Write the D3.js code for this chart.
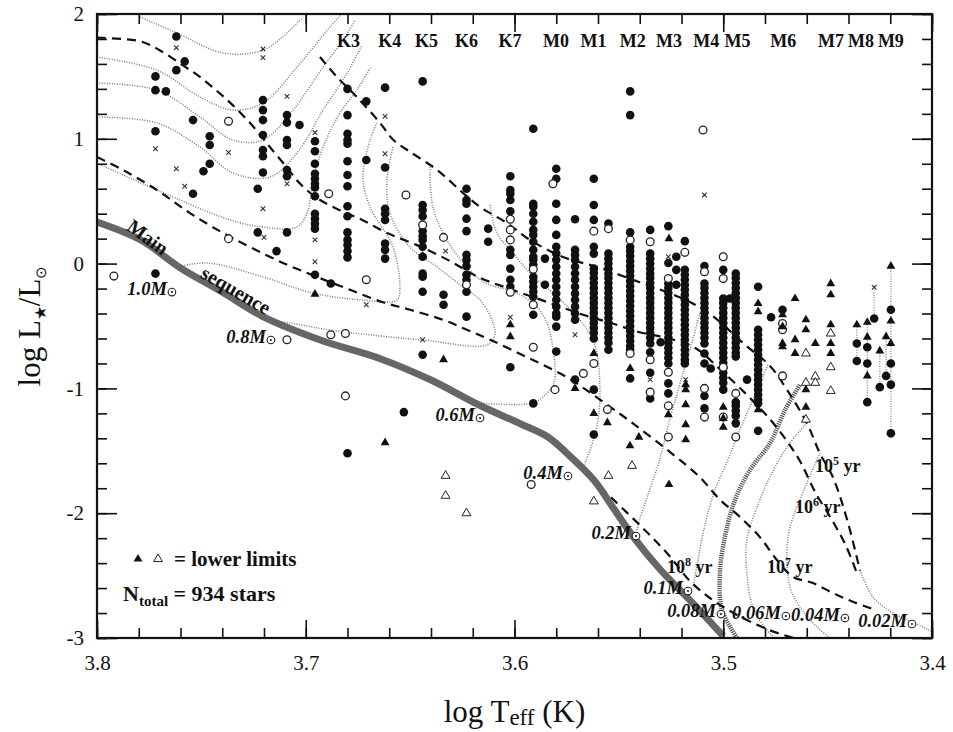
<!DOCTYPE html>
<html>
<head>
<meta charset="utf-8">
<title>HR diagram</title>
<script src="https://cdn.jsdelivr.net/npm/d3@7"></script>
<style>
body { margin: 0; background: #fff; }
svg text { font-family: "Liberation Serif", "Times New Roman", serif; fill: #111; }
.track { fill: none; stroke: #7a7a7a; stroke-width: 1.5; stroke-dasharray: 1 1.5; }
.track.thick { stroke: #555; stroke-width: 4.5; stroke-dasharray: 1.2 1; }
.iso { fill: none; stroke: #111; stroke-width: 2.2; stroke-dasharray: 9 6; }
.ms { fill: none; stroke: #666; stroke-width: 7; }
.tick line { stroke: #111; stroke-width: 1.6; }
</style>
</head>
<body>
<svg id="chart" width="953" height="732"></svg>
<script>
// ---- data (log Teff, log L) ----
// filled circles, grouped by spectral-type column: [logT, [logL...]]
var filledCols = [
  [3.772, [1.50, 1.39, 1.06, -0.08]],
  [3.767, [1.38]],
  [3.762, [1.82, 1.55]],
  [3.758, [1.62]],
  [3.754, [1.15, 0.56]],
  [3.746, [1.02, 0.95, 0.80]],
  [3.749, [0.74]],
  [3.7205, [1.31, 1.23, 1.15, 1.03, 0.91, 0.86, 0.73]],
  [3.723, [0.60, 0.25]],
  [3.709, [1.19, 1.13, 0.99, 0.95, 0.75, 0.70, 0.25]],
  [3.703, [1.11]],
  [3.714, [0.10]],
  [3.6956, [0.98, 0.90, 0.80, 0.72, 0.68, 0.64, 0.61, 0.54, 0.40, 0.36, 0.32, 0.28, -0.09]],
  [3.688, [-0.16]],
  [3.680, [1.40, 1.19, 1.04, 0.99, 0.96, 0.82, 0.71, 0.62, 0.46, 0.38, 0.25, 0.19, 0.15, 0.10, 0.05, -1.52]],
  [3.671, [1.30, 0.83]],
  [3.662, [1.41, 0.77, 0.44, 0.40, 0.35, 0.16, 0.11, 0.04]],
  [3.653, [-1.19]],
  [3.644, [1.46, 0.47, 0.43, 0.38, 0.26, 0.22, 0.19, 0.135, 0.055, -0.08, -0.105, -0.225, -0.73]],
  [3.634, [-0.25, -0.33]],
  [3.623, [0.60, 0.51, 0.48, 0.36, 0.26, 0.07, 0.03, -0.02, -0.09, -0.13, -0.225, -0.425]],
  [3.6126, [0.28, 0.175]],
  [3.602, [0.70, 0.59, 0.56, 0.51, 0.42, 0.11, 0.07, -0.04, -0.13, -0.185, -0.83]],
  [3.591, [1.08, 0.48, 0.455, 0.40, 0.335, 0.27, 0.23, 0.175, 0.11, 0.055, 0.03, -0.01, -0.105, -0.145, -0.185, -0.225, -0.265, -0.41, -1.12]],
  [3.5854, [0.04, -0.17]],
  [3.580, [0.76, 0.68, 0.48, 0.35, 0.23, 0.135, 0.08, 0.03, -0.025, -0.08, -0.13, -0.185, -0.24, -0.29, -0.345, -0.40, -0.425, -0.505, -0.705]],
  [3.571, [0.355, 0.11, 0.07, 0.03, -0.025, -0.08, -0.13, -0.185, -0.24, -0.29, -0.345, -0.40, -0.45, -0.93]],
  [3.562, [0.68, 0.47, 0.35, 0.135, 0.08, -0.04, -0.075, -0.115, -0.155, -0.195, -0.235, -0.275, -0.315, -0.355, -0.395, -0.435, -0.475, -0.515, -0.555, -0.60, -1.01, -1.37]],
  [3.555, [0.32, 0.08, 0.04, 0.00, -0.04, -0.08, -0.115, -0.155, -0.195, -0.235, -0.275, -0.315, -0.355, -0.395, -0.435, -0.475, -0.515, -0.555, -0.595, -0.635, -0.69]],
  [3.5446, [1.38, 1.19, 0.25, 0.135, 0.10, 0.06, 0.02, -0.02, -0.06, -0.10, -0.14, -0.18, -0.22, -0.26, -0.30, -0.34, -0.38, -0.42, -0.46, -0.50, -0.54, -0.58, -0.62, -0.66, -0.69, -0.92]],
  [3.535, [0.27, 0.08, 0.04, 0.00, -0.04, -0.08, -0.115, -0.155, -0.195, -0.235, -0.275, -0.315, -0.355, -0.395, -0.435, -0.475, -0.515, -0.555, -0.595, -0.64, -0.71, -0.875, -1.08]],
  [3.530, [-0.63]],
  [3.5263, [0.30, 0.005, -0.16, -0.195, -0.235, -0.275, -0.315, -0.355, -0.395, -0.435, -0.475, -0.515, -0.555, -0.595, -0.635, -0.675, -0.715, -0.755, -0.80, -0.96, -1.04]],
  [3.5225, [0.055, -0.05, -0.17]],
  [3.5184, [0.18, -0.05, -0.09, -0.13, -0.17, -0.21, -0.25, -0.29, -0.33, -0.37, -0.41, -0.45, -0.49, -0.53, -0.57, -0.61, -0.65, -0.69, -0.73, -0.77, -0.80]],
  [3.509, [-0.02, -0.16, -0.195, -0.235, -0.275, -0.315, -0.355, -0.395, -0.435, -0.475, -0.515, -0.555, -0.595, -0.64, -0.72, -0.80, -1.06, -1.16]],
  [3.506, [-0.84]],
  [3.500, [-0.05, -0.28, -0.315, -0.355, -0.395, -0.435, -0.475, -0.515, -0.555, -0.595, -0.635, -0.675, -0.715, -0.755, -0.795, -0.835, -0.875, -0.915, -0.955, -1.01]],
  [3.4968, [-0.28]],
  [3.494, [-0.08, -0.115, -0.155, -0.195, -0.235, -0.275, -0.315, -0.355, -0.395, -0.435, -0.475, -0.515, -0.555, -0.595, -0.635, -0.675, -0.715, -0.745, -1.11, -1.14, -1.18, -1.22, -1.28]],
  [3.4886, [-0.93]],
  [3.4833, [-0.185, -0.53, -0.57, -0.61, -0.65, -0.69, -0.73, -0.77, -0.81, -0.85, -0.89, -0.93, -0.97, -1.01, -1.05, -1.09, -1.12, -1.34]],
  [3.4771, [-0.43]],
  [3.4716, [-0.37]],
  [3.436, [-0.64, -0.78]],
  [3.431, [-0.67, -0.80, -1.11]],
  [3.4277, [-0.44]],
  [3.425, [-0.99]],
  [3.422, [-0.90]],
  [3.4197, [-0.37, -0.80, -0.97, -1.36]]
];

var openPts = [
  [3.7919, -0.10], [3.737, 1.14], [3.737, 0.20], [3.689, 0.56], [3.671, -0.13], [3.652, 0.55],
  [3.634, 0.21], [3.644, 0.31], [3.623, -0.17], [3.602, 0.355], [3.602, 0.27], [3.602, 0.19],
  [3.602, -0.23], [3.591, -0.045], [3.591, -0.33], [3.591, -0.67], [3.5816, 0.64], [3.562, 0.26],
  [3.562, -0.80], [3.555, 0.28], [3.5555, -1.17], [3.5446, 0.19], [3.5446, -0.72], [3.535, 0.175],
  [3.535, -0.77], [3.535, -1.03], [3.5263, -0.12], [3.5263, -0.87], [3.5263, -1.14], [3.5263, -1.39],
  [3.5184, 0.09], [3.509, -0.065], [3.509, -1.00], [3.509, -1.23], [3.500, 0.055], [3.500, -0.12],
  [3.500, -0.83], [3.500, -1.23], [3.494, -1.04], [3.494, -1.39], [3.4716, -0.48], [3.4716, -0.53],
  [3.4716, -0.90], [3.5097, 1.07], [3.709, -0.61], [3.688, -0.57], [3.681, -0.56], [3.681, -1.06],
  [3.592, -1.77], [3.567, -0.88], [3.5806, -1.01]
];

var crossPts = [
  [3.762, 1.73], [3.7205, 1.72], [3.7205, 1.65], [3.709, 1.34], [3.772, 0.92], [3.737, 0.89],
  [3.762, 0.76], [3.758, 0.62], [3.7205, 0.44], [3.6956, 1.05], [3.6956, 0.19], [3.6956, 0.015],
  [3.662, 1.18], [3.662, 0.88], [3.671, -0.33], [3.720, 0.21], [3.709, 0.64], [3.633, 0.10],
  [3.644, -0.61], [3.602, -0.43], [3.571, -0.57], [3.535, -0.93], [3.518, -0.93], [3.5263, 0.055],
  [3.509, 0.55], [3.4277, -0.19]
];

// lower limits
var triFilledPts = [
  [3.6956, -0.245], [3.644, 0.06], [3.634, -0.77], [3.662, -1.435], [3.602, -0.49], [3.602, -0.585],
  [3.571, -1.00], [3.562, -0.72], [3.562, -1.20], [3.5555, -1.275], [3.5446, -0.84], [3.5404, -1.39],
  [3.5447, -1.46], [3.526, 0.20], [3.5263, -1.21], [3.526, -1.77], [3.518, -0.97], [3.518, -1.01],
  [3.518, -1.13], [3.518, -1.29], [3.518, -1.41], [3.500, -1.15], [3.500, -1.24], [3.500, -1.31],
  [3.494, -0.225], [3.4833, -0.32], [3.4833, -0.385], [3.4833, -1.17], [3.4716, -0.41], [3.4716, -0.505],
  [3.4716, -0.64], [3.4716, -0.665], [3.4656, -0.28], [3.4656, -0.61], [3.4656, -0.72], [3.4604, -0.45],
  [3.4604, -0.53], [3.4604, -1.01], [3.4604, -1.15], [3.4559, -0.64], [3.4485, -0.16], [3.4485, -0.25],
  [3.4485, -0.49], [3.4485, -0.64], [3.4485, -0.72], [3.436, -0.49], [3.431, -0.47], [3.431, -0.59],
  [3.431, -0.90], [3.425, -0.70], [3.422, -0.585], [3.4197, -0.02], [3.4197, -0.46], [3.4197, -0.64]
];

var triOpenPts = [
  [3.633, -1.70], [3.633, -1.86], [3.623, -2.00], [3.555, -1.70], [3.562, -1.905], [3.5437, -1.62],
  [3.4604, -0.72], [3.4604, -0.955], [3.4604, -1.25], [3.4559, -0.905], [3.4559, -0.955],
  [3.4485, -0.56], [3.4485, -0.83], [3.4485, -1.02]
];

// dotted range bars joining measurements of the same star: [logT, logL top, logL bottom]
var rangeBars = [
  [3.436, -0.49, -0.78], [3.431, -0.47, -1.11], [3.4277, -0.19, -0.44],
  [3.425, -0.70, -0.99], [3.422, -0.585, -0.90], [3.4197, -0.02, -1.36]
];

// zero-age main sequence
var mainSeq = [
  [3.800, 0.333], [3.779, 0.189], [3.760, -0.035], [3.740, -0.228], [3.721, -0.420], [3.693, -0.612],
  [3.664, -0.764], [3.640, -0.933], [3.617, -1.133], [3.597, -1.285], [3.584, -1.389], [3.575, -1.518],
  [3.562, -1.734], [3.553, -1.950], [3.543, -2.191], [3.530, -2.455], [3.516, -2.696], [3.500, -2.984]
];

// isochrones
var iso1e5 = [
  [3.6932, 1.655], [3.685, 1.495], [3.6755, 1.335], [3.6644, 1.127], [3.658, 0.99], [3.650, 0.895],
  [3.637, 0.75], [3.6247, 0.566], [3.6165, 0.454], [3.6036, 0.325], [3.5926, 0.19], [3.5768, 0.053],
  [3.5605, -0.027], [3.540, -0.15], [3.5209, -0.27], [3.5066, -0.40], [3.4896, -0.65], [3.4776, -0.82],
  [3.4695, -1.01], [3.4599, -1.28], [3.4537, -1.52], [3.4475, -1.71], [3.4407, -2.05], [3.4345, -2.46]
];
var iso1e6 = [
  [3.800, 1.81], [3.779, 1.78], [3.770, 1.71], [3.759, 1.59], [3.751, 1.50], [3.743, 1.39],
  [3.735, 1.27], [3.725, 1.095], [3.717, 0.93], [3.709, 0.77], [3.703, 0.645], [3.695, 0.53],
  [3.684, 0.43], [3.673, 0.35], [3.661, 0.245], [3.647, 0.15], [3.632, 0.03], [3.617, -0.11],
  [3.601, -0.21], [3.584, -0.31], [3.569, -0.40], [3.553, -0.48], [3.540, -0.55], [3.526, -0.60],
  [3.513, -0.68], [3.502, -0.84], [3.490, -1.03], [3.478, -1.24], [3.470, -1.41], [3.463, -1.59],
  [3.456, -1.83], [3.447, -2.08], [3.441, -2.27], [3.436, -2.48]
];
var iso1e7 = [
  [3.800, 0.854], [3.7875, 0.75], [3.7713, 0.59], [3.7555, 0.405], [3.7396, 0.245], [3.7267, 0.133],
  [3.7109, 0.005], [3.6946, -0.107], [3.6788, -0.21], [3.663, -0.31], [3.650, -0.37], [3.6343, -0.45],
  [3.6228, -0.53], [3.6117, -0.61], [3.594, -0.75], [3.5749, -0.91], [3.5591, -1.09], [3.5433, -1.28],
  [3.524, -1.53], [3.5113, -1.71], [3.5017, -1.89], [3.492, -2.03], [3.4825, -2.19], [3.4743, -2.375],
  [3.4666, -2.51], [3.457, -2.56], [3.4474, -2.64], [3.4379, -2.71], [3.4264, -2.78]
];
var iso1e8 = [
  [3.559, -1.79], [3.556, -1.838], [3.540, -2.095], [3.527, -2.319], [3.515, -2.559], [3.500, -2.752],
  [3.478, -2.936], [3.466, -3.0]
];

// evolutionary tracks (dotted)
var tracks = [
  [[3.7794, 1.976], [3.7617, 1.848], [3.7396, 1.6875], [3.7205, 1.71], [3.7076, 1.87], [3.7013, 1.976]],
  [[3.800, 1.655], [3.7713, 1.55], [3.7507, 1.335], [3.7349, 1.23], [3.7205, 1.287], [3.7042, 1.575], [3.6884, 1.896], [3.6812, 2.03]],
  [[3.800, 1.447], [3.7713, 1.39], [3.7507, 1.175], [3.7349, 0.99], [3.7205, 0.99], [3.7061, 1.23], [3.6917, 1.575], [3.6822, 1.79], [3.6764, 1.95]],
  [[3.800, 1.175], [3.7713, 1.127], [3.7507, 0.934], [3.7349, 0.726], [3.7171, 0.694], [3.7042, 0.886], [3.6917, 1.23], [3.6802, 1.527], [3.673, 1.75]],
  [[3.800, 0.806], [3.7713, 0.59], [3.7363, 0.35], [3.7205, 0.293], [3.7042, 0.293], [3.6994, 0.405], [3.6965, 0.67], [3.6917, 0.934], [3.6836, 1.207], [3.6755, 1.39], [3.6692, 1.567]],
  [[3.6659, 1.127], [3.6692, 0.99], [3.6726, 0.694], [3.6692, 0.453], [3.6582, 0.133], [3.6549, -0.188], [3.6563, -0.292], [3.6726, -0.292], [3.6965, -0.236], [3.7234, -0.091], [3.7473, 0.005], [3.7617, -0.027]],
  [[3.6582, 0.934], [3.6611, 0.67], [3.6597, 0.405], [3.6501, 0.133], [3.6371, -0.027], [3.6247, -0.188], [3.6165, -0.292], [3.6108, -0.452], [3.6094, -0.572], [3.6132, -0.652], [3.6438, -0.612], [3.6597, -0.588], [3.6884, -0.532], [3.7076, -0.476], [3.7195, -0.452]],
  [[3.6405, 0.774], [3.6391, 0.453], [3.6324, 0.189], [3.6228, -0.027], [3.6141, -0.155], [3.5988, -0.236], [3.5892, -0.348], [3.5844, -0.476], [3.582, -0.636], [3.5806, -0.829], [3.5811, -0.957], [3.5844, -1.037], [3.5912, -1.117], [3.6165, -1.117]],
  [[3.6117, 0.47], [3.6084, 0.245], [3.6007, 0.085], [3.5926, -0.075], [3.5816, -0.236], [3.5686, -0.452], [3.5615, -0.652], [3.5591, -0.989], [3.56, -1.253], [3.5638, -1.494], [3.5672, -1.63]],
  [[3.5112, -0.396], [3.516, -0.692], [3.5209, -0.973], [3.5257, -1.253], [3.5305, -1.574], [3.5353, -1.814], [3.5401, -2.055], [3.5413, -2.135]],
  [[3.4786, -0.813], [3.4848, -1.053], [3.4911, -1.293], [3.4978, -1.574], [3.504, -1.814], [3.5088, -2.095], [3.5121, -2.375], [3.5145, -2.592]],
  [[3.4599, -1.277], [3.4695, -1.47], [3.4776, -1.71], [3.4838, -1.95], [3.4887, -2.215], [3.4887, -2.479], [3.4858, -2.752], [3.4791, -2.936], [3.4752, -3.0]],
  [[3.4537, -1.518], [3.4633, -1.894], [3.468, -2.111], [3.4695, -2.319], [3.468, -2.592], [3.4633, -2.752], [3.4551, -2.912], [3.4489, -3.0]],
  [[3.4345, -2.455], [3.4283, -2.672], [3.4187, -2.8], [3.4043, -2.912], [3.400, -2.95]]
];
// substellar limit track (0.08 Msun), drawn heavier
var track008 = [
  [3.4633, -0.973], [3.4704, -1.173], [3.4776, -1.438], [3.4872, -1.654], [3.4944, -1.894],
  [3.4992, -2.191], [3.5016, -2.479], [3.5006, -2.776], [3.4934, -3.0]
];

var massLabels = [
  ["1.0M", 3.7641, -0.228], ["0.8M", 3.7167, -0.612], ["0.6M", 3.6165, -1.237], ["0.4M", 3.5744, -1.702],
  ["0.2M", 3.5418, -2.183], ["0.1M", 3.5169, -2.624], ["0.08M", 3.5011, -2.808], ["0.06M", 3.470, -2.824],
  ["0.04M", 3.4417, -2.840], ["0.02M", 3.4096, -2.888]
];
var ageLabels = [["5", 3.4561, -1.67], ["6", 3.4656, -2.0], ["7", 3.479, -2.48], ["8", 3.527, -2.48]];

var spTypes = ["K3", "K4", "K5", "K6", "K7", "M0", "M1", "M2", "M3", "M4", "M5", "M6", "M7", "M8", "M9"];
var spTeff = [3.6795, 3.6597, 3.6422, 3.623, 3.6022, 3.5801, 3.5622, 3.5433, 3.5260, 3.5081, 3.4932, 3.4712, 3.4484, 3.434, 3.4197];

var xTicksMajor = [3.8, 3.7, 3.6, 3.5, 3.4];
var yTicksMajor = [2, 1, 0, -1, -2, -3];

// ---- chart ----
var svg = d3.select("#chart");
var W = 953, H = 732;
var m = {left: 97, right: 21, top: 14, bottom: 94};
var x = d3.scaleLinear().domain([3.8, 3.4]).range([m.left, W - m.right]);
var y = d3.scaleLinear().domain([2, -3]).range([m.top, H - m.bottom]);

svg.append("rect").attr("width", W).attr("height", H).attr("fill", "#fff");

svg.append("clipPath").attr("id", "clip")
  .append("rect")
  .attr("x", x(3.8)).attr("y", y(2))
  .attr("width", x(3.4) - x(3.8)).attr("height", y(-3) - y(2));

var plot = svg.append("g").attr("clip-path", "url(#clip)");

var line = d3.line()
  .x(function(d) { return x(d[0]); })
  .y(function(d) { return y(d[1]); })
  .curve(d3.curveCatmullRom.alpha(0.5));

// tracks
plot.selectAll("path.track.thin").data(tracks).enter()
  .append("path").attr("class", "track thin").attr("d", line);
plot.append("path").datum(track008).attr("class", "track thick").attr("d", line);

// isochrones
[iso1e5, iso1e6, iso1e7, iso1e8].forEach(function(iso) {
  plot.append("path").datum(iso).attr("class", "iso").attr("d", line);
});

// main sequence
plot.append("path").datum(mainSeq).attr("class", "ms").attr("d", line);

// range bars
plot.selectAll("line.bar").data(rangeBars).enter().append("line")
  .attr("class", "bar")
  .attr("x1", function(d) { return x(d[0]); }).attr("x2", function(d) { return x(d[0]); })
  .attr("y1", function(d) { return y(d[1]); }).attr("y2", function(d) { return y(d[2]); })
  .attr("stroke", "#888").attr("stroke-width", 1.3).attr("stroke-dasharray", "1 1.5");

// points
var filledPts = filledCols.flatMap(function(c) { return c[1].map(function(l) { return [c[0], l]; }); });

plot.selectAll("circle.filled").data(filledPts).enter().append("circle")
  .attr("class", "filled")
  .attr("cx", function(d) { return x(d[0]); })
  .attr("cy", function(d) { return y(d[1]); })
  .attr("r", 4.3).attr("fill", "#111");

plot.selectAll("circle.open").data(openPts).enter().append("circle")
  .attr("class", "open")
  .attr("cx", function(d) { return x(d[0]); })
  .attr("cy", function(d) { return y(d[1]); })
  .attr("r", 3.9).attr("fill", "#fff").attr("stroke", "#222").attr("stroke-width", 1.3);

plot.selectAll("path.cross").data(crossPts).enter().append("path")
  .attr("class", "cross")
  .attr("d", function(d) {
    var cx = x(d[0]), cy = y(d[1]), s = 2.3;
    return "M" + (cx - s) + "," + (cy - s) + "L" + (cx + s) + "," + (cy + s) +
           "M" + (cx - s) + "," + (cy + s) + "L" + (cx + s) + "," + (cy - s);
  })
  .attr("stroke", "#333").attr("stroke-width", 1.1);

var tri = d3.symbol().type(d3.symbolTriangle).size(34);
plot.selectAll("path.trif").data(triFilledPts).enter().append("path")
  .attr("class", "trif")
  .attr("transform", function(d) { return "translate(" + x(d[0]) + "," + y(d[1]) + ")"; })
  .attr("d", tri).attr("fill", "#111");

plot.selectAll("path.trio").data(triOpenPts).enter().append("path")
  .attr("class", "trio")
  .attr("transform", function(d) { return "translate(" + x(d[0]) + "," + y(d[1]) + ")"; })
  .attr("d", tri).attr("fill", "#fff").attr("stroke", "#222").attr("stroke-width", 1);

// mass labels with solar symbol
var ml = plot.selectAll("g.mlab").data(massLabels).enter().append("g")
  .attr("class", "mlab")
  .attr("transform", function(d) { return "translate(" + x(d[1]) + "," + y(d[2]) + ")"; });
ml.append("text")
  .attr("x", -5).attr("y", 3)
  .attr("text-anchor", "end")
  .attr("font-size", 18.5).attr("font-weight", "bold").attr("font-style", "italic")
  .text(function(d) { return d[0]; });
ml.append("circle").attr("r", 3.8).attr("fill", "#fff").attr("stroke", "#222").attr("stroke-width", 1.1);
ml.append("circle").attr("r", 1.1).attr("fill", "#222");

// age labels
var al = plot.selectAll("text.age").data(ageLabels).enter().append("text")
  .attr("class", "age")
  .attr("x", function(d) { return x(d[1]); })
  .attr("y", function(d) { return y(d[2]); })
  .attr("font-size", 18).attr("font-weight", "bold");
al.append("tspan").text("10");
al.append("tspan").attr("font-size", 12).attr("dy", -7).text(function(d) { return d[0]; });
al.append("tspan").attr("dy", 7).text(" yr");

// main sequence label
plot.append("text")
  .attr("transform", "translate(" + x(3.7756) + "," + y(0.213) + ") rotate(36)")
  .attr("text-anchor", "middle").attr("dy", "0.35em")
  .attr("font-size", 20).attr("font-weight", "bold").text("Main");
plot.append("text")
  .attr("transform", "translate(" + x(3.7334) + "," + y(-0.212) + ") rotate(30)")
  .attr("text-anchor", "middle").attr("dy", "0.35em")
  .attr("font-size", 20).attr("font-weight", "bold").text("sequence");

// spectral types
svg.selectAll("text.sp").data(spTypes).enter().append("text")
  .attr("class", "sp")
  .attr("x", function(d, i) { return x(spTeff[i]); })
  .attr("y", 47)
  .attr("text-anchor", "middle")
  .attr("font-size", 18).attr("font-weight", "bold")
  .text(function(d) { return d; });

// axes: inward ticks on all four sides
var xMinor = d3.range(0, 21).map(function(i) { return +(3.4 + i * 0.02).toFixed(2); });
var yMinor = d3.range(0, 26).map(function(i) { return +(-3 + i * 0.2).toFixed(1); });

function addAxis(axis, tx, ty) {
  var g = svg.append("g").attr("transform", "translate(" + tx + "," + ty + ")").call(axis);
  g.select(".domain").remove();
  return g;
}
var x0 = x(3.8), x1 = x(3.4), y0 = y(2), y1 = y(-3);

addAxis(d3.axisBottom(x).tickValues(xMinor).tickSize(-10).tickFormat(""), 0, y1);
addAxis(d3.axisTop(x).tickValues(xMinor).tickSize(-10).tickFormat(""), 0, y0);
addAxis(d3.axisLeft(y).tickValues(yMinor).tickSize(-10).tickFormat(""), x0, 0);
addAxis(d3.axisRight(y).tickValues(yMinor).tickSize(-10).tickFormat(""), x1, 0);

var gxb = addAxis(d3.axisBottom(x).tickValues(xTicksMajor).tickSize(-18).tickPadding(17).tickFormat(d3.format(".1f")), 0, y1);
addAxis(d3.axisTop(x).tickValues(xTicksMajor).tickSize(-18).tickFormat(""), 0, y0);
var gyl = addAxis(d3.axisLeft(y).tickValues(yTicksMajor).tickSize(-20).tickPadding(13).tickFormat(d3.format("d")), x0, 0);
addAxis(d3.axisRight(y).tickValues(yTicksMajor).tickSize(-20).tickFormat(""), x1, 0);

[gxb, gyl].forEach(function(g) {
  g.selectAll("text")
    .attr("font-family", "Liberation Serif, Times New Roman, serif")
    .attr("font-size", 21).attr("fill", "#111");
});
gyl.selectAll("text").text(function(d) { return d < 0 ? "-" + Math.abs(d) : d; });

// frame
svg.append("rect")
  .attr("x", x0).attr("y", y0).attr("width", x1 - x0).attr("height", y1 - y0)
  .attr("fill", "none").attr("stroke", "#111").attr("stroke-width", 2.2);

// axis titles
var xt = svg.append("text")
  .attr("x", (x0 + x1) / 2).attr("y", 722)
  .attr("text-anchor", "middle").attr("font-size", 31);
xt.append("tspan").text("log T");
xt.append("tspan").attr("font-size", 23).attr("dy", 3).text("eff");
xt.append("tspan").attr("dy", -3).text(" (K)");

var yt = svg.append("text")
  .attr("transform", "translate(40," + ((y0 + y1) / 2) + ") rotate(-90)")
  .attr("text-anchor", "middle").attr("font-size", 31);
yt.append("tspan").text("log L");
yt.append("tspan").attr("font-size", 16).attr("dy", 6).text("★");
yt.append("tspan").attr("dy", -6).text("/L");
yt.append("tspan").attr("font-size", 15).attr("dy", 6).text("⊙");

// legend
var leg = svg.append("g");
leg.append("path").attr("transform", "translate(138,559)").attr("d", tri).attr("fill", "#111");
leg.append("path").attr("transform", "translate(158,559)").attr("d", tri)
  .attr("fill", "#fff").attr("stroke", "#222").attr("stroke-width", 1);
leg.append("text").attr("x", 174).attr("y", 566).attr("font-size", 21).attr("font-weight", "bold")
  .text("= lower limits");
var nt = leg.append("text").attr("x", 123).attr("y", 601).attr("font-size", 22).attr("font-weight", "bold");
nt.append("tspan").text("N");
nt.append("tspan").attr("font-size", 15).attr("dy", 5).text("total");
nt.append("tspan").attr("dy", -5).text(" = 934 stars");
</script>
</body>
</html>
